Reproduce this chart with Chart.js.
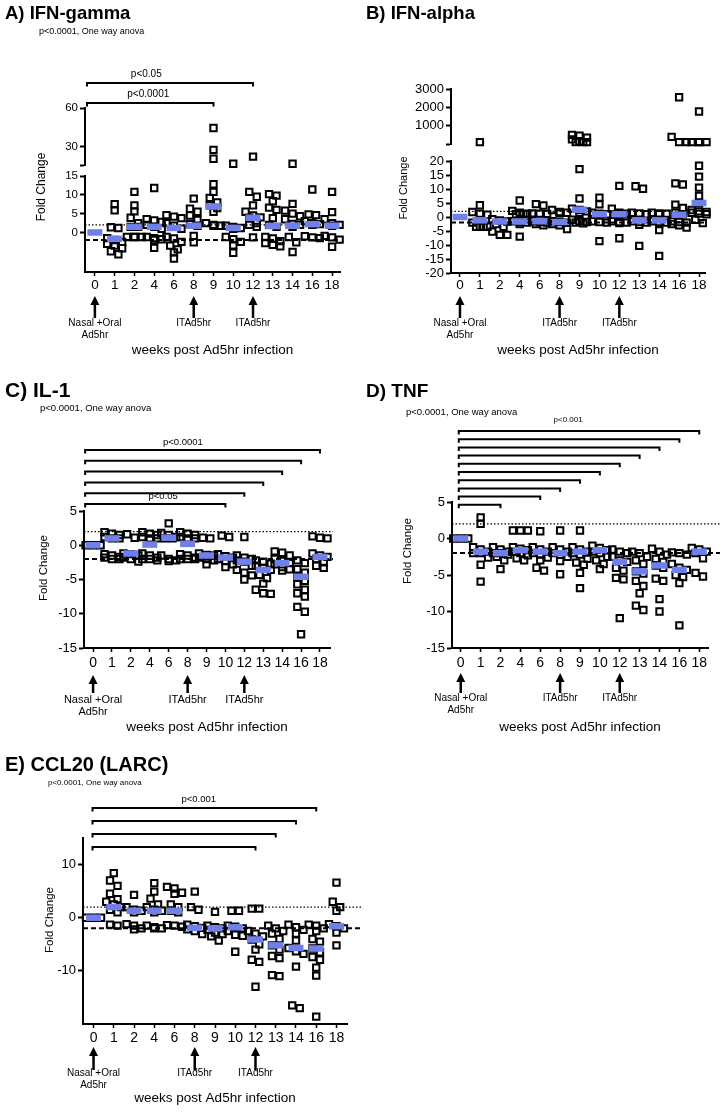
<!DOCTYPE html>
<html>
<head>
<meta charset="utf-8">
<script src="https://cdn.jsdelivr.net/npm/chart.js@4.4.1/dist/chart.umd.min.js"></script>
<style>
  body { margin: 0; background: #fff; width: 722px; height: 1112px; position: relative; overflow: hidden; }
  canvas { position: absolute; }
</style>
</head>
<body>
<canvas id="cA" width="361" height="360" style="left:0;top:0"></canvas>
<canvas id="cB" width="361" height="360" style="left:361px;top:0"></canvas>
<canvas id="cC" width="361" height="375" style="left:0;top:360px"></canvas>
<canvas id="cD" width="361" height="375" style="left:361px;top:360px"></canvas>
<canvas id="cE" width="361" height="377" style="left:0;top:735px"></canvas>
<script>
// shared categories / labels
const weeks = ['0', '1', '2', '4', '6', '8', '9', '10', '12', '13', '14', '16', '18'];
const cutoffs = [2, -2];           // dotted, dashed reference lines
const arrowWeeks = ['0', '8', '12'];
const arrowLabels = [['Nasal +Oral', 'Ad5hr'], ['ITAd5hr'], ['ITAd5hr']];
const xTitle = 'weeks post Ad5hr infection';
const yTitle = 'Fold Change';
const anova = 'p<0.0001, One way anova';

// A) IFN-gamma
const ifnGamma = [
  [],
  [7.5, 5.9, 1.4, 1.2, -1.5, -2, -2.5, -3, -3.5, -4.2, -5, -5.8],
  [10.8, 7.2, 5.6, 3.9, 2.5, 1.5, 1.5, -1.2, -1.2, -1.2, -1.2],
  [11.8, 3.5, 3.2, 2.8, 2, 1.5, 1, -1.2, -1.5, -1.8, -2, -4.1],
  [4.6, 4.2, 3.8, 2.5, 1.8, 1, -1.2, -1.6, -2.5, -3.5, -4.5, -5.3, -6.9],
  [9, 6.3, 5.5, 4.5, 3.3, 2.2, 1.8, -0.9, -2.6],
  [44.6, 27.7, 20.8, 12.8, 10.8, 9.2, 8, 7.2, 6.5, 5.5, 2.5, 2, 1.8, 1.8],
  [17, 1.8, 1.5, 1.2, 1, -1.2, -1.8, -2.5, -3.4, -5.4],
  [22.5, 10.8, 9.5, 7.2, 5.5, 4.5, 4, 3.9, 2.5, 2, 1.5, -1.3],
  [10.2, 9.8, 8.3, 6.6, 6, 3.8, 2, 1.5, -1.2, -1.6, -2.3, -2.8, -3.3, -3.7],
  [17, 7.6, 5.8, 5, 4.3, 3.5, 2.3, 2, 1.5, -1.2, -2.6, -5.2],
  [11.4, 4.8, 4.6, 3, 2.5, 2.2, 2, -1, -1.3, -1.5],
  [10.8, 5.4, 3.5, 2.5, 2, 1.8, -0.9, -1.3, -1.9, -3.8]
];
const ifnGammaMedian = [0, -1.7, 1.5, 1.5, 1.2, 1.8, 6.9, 1.2, 3.9, 1.7, 1.8, 2.2, 1.8];
const ifnGammaTicksHigh = [30, 60];
const ifnGammaTicksLow = [0, 5, 10, 15];
const ifnGammaVs = ['12', '9'];
const ifnGammaP = ['p<0.05', 'p<0.0001'];

// B) IFN-alpha
const ifnAlpha = [
  [],
  [100, 4.2, 1.8, 1.2, 0.8, -2, -3.5, -3.5, -3.5, -3.5],
  [-0.8, -1.2, -1.6, -2.5, -3.5, -5.2, -6.4, -6.4],
  [5.9, 2.2, 1.5, 1.2, 1, 1, -1.5, -1.8, -2, -2.5, -7],
  [4.6, 4.1, 1.3, 1.2, 1.1, -1.5, -1.8, -2, -2.5, -3],
  [2.5, 1.8, 1.5, 1.3, -1.5, -1.8, -2, -2.5, -3, -4.3],
  [500, 450, 350, 250, 150, 100, 100, 100, 17.1, 6.6, 3, 2.5, 2, 1.5, -1, -1.5, -1.8, -2, -2.3],
  [6.9, 4.5, 1.5, 1.2, 1, 0.8, -1.5, -1.8, -2, -8.6],
  [11.1, 3, 1.5, 1.2, 1, 1, -1.5, -1.8, -2, -2.2, -7.6],
  [11, 10.1, 1.5, 1.3, 1, -1.5, -1.8, -2, -2.8, -10.3],
  [1.5, 1.3, 1.2, 1, -1.5, -1.8, -2, -2.5, -4.7, -13.9],
  [2550, 390, 100, 100, 12, 11.6, 4.4, 3.2, 1.5, 1, -1.5, -1.8, -2, -2.5, -3, -3.8],
  [1774, 100, 100, 100, 100, 18.3, 14.4, 10.5, 7.5, 5, 2.5, 2, 1.8, 1.5, 1.2, 1, -1, -2.2]
];
const ifnAlphaMedian = [0, -1.2, -1.6, -1.6, -1.5, -1.8, 2.6, 1, 1, -1.2, -1.2, 0.8, 5];
const ifnAlphaTicksHigh = [1000, 2000, 3000];
const ifnAlphaTicksLow = [-20, -15, -10, -5, 0, 5, 10, 15, 20];

// C) IL-1
const il1 = [
  [0, 0, 0],
  [1.9, 1.7, 1.5, 1.2, 1, 1, -1.3, -1.5, -1.7, -1.8, -2, -2],
  [1.6, 1.1, -1.2, -1.3, -1.5, -1.8, -2, -2.4],
  [1.9, 1.7, 1.5, 1.2, 1, 1, -1.2, -1.5, -1.8, -2, -2, -2.2],
  [3.2, 1.8, 1.5, 1.2, 1, 1, -1.5, -2, -2.2, -2.3],
  [1.9, 1.7, 1.5, 1.2, 1, 1, -1.3, -1.5, -1.8, -2, -2, -2],
  [1.1, 1, -1.2, -1.4, -1.5, -1.8, -2, -2.2, -2.8],
  [1.4, 1.2, -1.3, -1.6, -1.8, -2, -2.3, -2.8, -3.2],
  [1.2, -1.5, -1.8, -2, -2.2, -2.4, -3, -3.6, -4, -4.4, -5],
  [-2.2, -2.4, -2.7, -3, -3.3, -3.6, -4.3, -4.8, -5.6, -6.5, -7, -7.1],
  [-0.9, -1.1, -1.5, -2, -2.3, -2.6, -2.8, -3.2, -3.5, -3.7],
  [-2.2, -2.6, -3.5, -4, -4.6, -5.2, -5.7, -6.5, -7, -7.5, -9, -9.7, -13],
  [1.3, 1.1, 1, -1.2, -1.5, -1.7, -2, -2.5, -3, -3.3]
];
const il1Median = [0, 1, -1.2, 0.1, 1.1, 0.2, -1.5, -1.8, -2.4, -3.6, -2.6, -4.6, -1.7];
const il1Ticks = [-15, -10, -5, 0, 5];
const il1Vs = ['18', '16', '14', '13', '12', '10'];
const il1P = ['p<0.0001', '', '', '', '', 'p<0.05'];

// D) TNF
const tnf = [
  [0, 0, 0],
  [2.9, 2, -1.2, -1.5, -1.8, -2, -2, -2.6, -3.6, -5.9],
  [-1.2, -1.5, -1.8, -2, -2, -2.2, -2.5, -3, -4.2],
  [1.1, 1.1, 1.1, -1.2, -1.4, -1.6, -1.8, -2, -2.3, -2.7, -3],
  [1, -1.2, -1.5, -1.8, -2, -2.2, -2.6, -3, -4, -4.4],
  [1.1, -1.2, -1.5, -1.8, -2, -2.2, -2.5, -3.1, -4.9],
  [1.1, -1.2, -1.5, -1.8, -2, -2.2, -2.8, -3.3, -3.6, -4.7, -6.8],
  [-1, -1.3, -1.6, -1.8, -2, -2.5, -3, -3.5, -4.2],
  [-1.5, -1.8, -2, -2.5, -3, -3.2, -4, -4.4, -5.4, -5.6, -10.9],
  [-1.8, -2, -2.5, -3, -3.5, -4.5, -4.8, -5.8, -6.5, -7.5, -9.2, -9.8],
  [-1.4, -1.8, -2.2, -2.8, -3.2, -3.7, -4, -5.5, -5.8, -8.3, -10],
  [-1.9, -2, -2.2, -3.5, -4, -4.3, -5, -5.3, -6.1, -11.9],
  [-1.3, -1.5, -1.8, -2, -2.7, -4.7, -5.2]
];
const tnfMedian = [0, -1.8, -2, -1.6, -1.8, -2, -1.8, -1.6, -3.2, -4.5, -3.7, -4.3, -1.8];
const tnfTicks = [-15, -10, -5, 0, 5];
const tnfVs = ['18', '16', '14', '13', '12', '10', '9', '8', '6', '2'];
const tnfP = ['p<0.001', '', '', '', '', '', '', '', '', ''];

// E) CCL20 (LARC)
const ccl20 = [
  [0, 0, 0],
  [8.4, 7, 6, 4.5, 3.5, 3, 2.5, 2, 1.5, 1, -1.3, -1.5],
  [4.3, 2, 1.5, 1.3, 1, -1.2, -1.5, -2, -2.2],
  [6.5, 4.9, 3.6, 2.5, 2, 1.5, 1.3, 1, -1.5, -1.8, -2, -2],
  [5.8, 5.5, 4.7, 4.5, 2.5, 2, 1.3, 1, -1.4, -1.5, -1.7],
  [4.9, 2, 1.5, -1.3, -1.6, -1.9, -2.2, -2.5, -3.1],
  [1.1, -1.5, -1.8, -2, -2.3, -2.8, -3.1, -3.5, -4.3],
  [1.3, 1.3, -1.5, -1.7, -2, -2.5, -3.2, -3.4, -6.4],
  [1.7, 1.7, -2.5, -3, -3.5, -4.1, -5, -6, -7.9, -8.3, -13],
  [-1.5, -2, -2.5, -3, -4, -5.2, -6, -7.2, -7.6, -10.8, -11],
  [-1.3, -1.8, -2.3, -3, -4.3, -5.7, -6.3, -6.8, -9.2, -16.5, -17],
  [-1.3, -1.5, -2, -2.5, -4, -4.5, -5.8, -6.5, -7.4, -7.9, -9.4, -10.9, -18.6],
  [6.6, 3, 2, 1.3, -1.2, -1.6, -2, -2.8, -5.2]
];
const ccl20Median = [0, 2, 1.3, 1.3, 1.3, -1.9, -2, -1.8, -4.1, -5.2, -5.7, -5.8, -1.6];
const ccl20Ticks = [-10, 0, 10];
const ccl20Vs = ['16', '14', '13', '12'];
const ccl20P = ['p<0.001', '', '', ''];

const FONT = "'Liberation Sans', Arial, Helvetica, sans-serif";
const BLUE = '#6f80ea';
Chart.defaults.font.family = FONT;
Chart.defaults.color = '#000';

function panelPlugin(g, lowId) {
  return {
    id: 'panel',
    beforeDatasetsDraw(chart) {
      const ctx = chart.ctx, a = chart.chartArea, ys = chart.scales[lowId];
      const right = g.lineRight || a.right;
      ctx.save();
      ctx.strokeStyle = '#000';
      [[1.2, [1.5, 2]], [2, [5, 3]]].forEach(([w, dash], k) => {
        const y = ys.getPixelForValue(cutoffs[k]);
        ctx.lineWidth = w;
        ctx.setLineDash(dash);
        ctx.beginPath(); ctx.moveTo(a.left, y); ctx.lineTo(right, y); ctx.stroke();
      });
      ctx.restore();
    },
    afterDraw(chart) {
      const ctx = chart.ctx, a = chart.chartArea, xs = chart.scales.x;
      ctx.save();
      ctx.fillStyle = '#000';
      ctx.strokeStyle = '#000';
      ctx.textAlign = 'left';
      ctx.textBaseline = 'alphabetic';
      ctx.font = `bold ${g.titleSize}px ${FONT}`;
      ctx.fillText(g.title, 5, g.titleY);
      ctx.textBaseline = 'middle';
      if (g.subSize) {
        ctx.font = `${g.subSize}px ${FONT}`;
        ctx.fillText(anova, g.subX, g.subY);
      }
      // comparison brackets
      if (g.vs) {
        const x0 = xs.getPixelForValue(g.brStart);
        g.vs.forEach((w, k) => {
          const y = g.brTop + k * g.brStep;
          const x1 = xs.getPixelForValue(weeks.indexOf(w));
          ctx.lineWidth = 2;
          ctx.beginPath();
          ctx.moveTo(x0, y + 3.5); ctx.lineTo(x0, y); ctx.lineTo(x1, y); ctx.lineTo(x1, y + 3.5);
          ctx.stroke();
          if (g.p[k]) {
            ctx.font = `${g.brFont}px ${FONT}`;
            ctx.textAlign = 'center';
            ctx.fillText(g.p[k], xs.getPixelForValue(g.brLabelAt[k]), y - g.brRise);
          }
        });
      }
      // inoculation arrows
      arrowWeeks.forEach((w, k) => {
        const x = xs.getPixelForValue(weeks.indexOf(w));
        ctx.lineWidth = 2.5;
        ctx.beginPath(); ctx.moveTo(x, g.arrowTail); ctx.lineTo(x, g.arrowTip + 6); ctx.stroke();
        ctx.beginPath();
        ctx.moveTo(x, g.arrowTip); ctx.lineTo(x - 4.5, g.arrowTip + 9); ctx.lineTo(x + 4.5, g.arrowTip + 9);
        ctx.closePath(); ctx.fill();
        ctx.font = `${g.arrowFont}px ${FONT}`;
        ctx.textAlign = 'center';
        arrowLabels[k].forEach((t, j) => ctx.fillText(t, x, g.arrowTextY + j * 12));
      });
      // axis titles
      ctx.textAlign = 'center';
      ctx.font = `13.5px ${FONT}`;
      ctx.fillText(xTitle, (a.left + a.right) / 2, g.xTitleY);
      ctx.translate(g.yTitleX, g.yTitleY);
      ctx.rotate(-Math.PI / 2);
      ctx.font = `${g.yTitleSize}px ${FONT}`;
      ctx.fillText(yTitle, 0, 0);
      ctx.restore();
    }
  };
}

// spread overlapping points sideways, GraphPad style, in pixel space
function spread(chart) {
  const xs = chart.scales.x;
  const step = 7.5 / (xs.getPixelForValue(1) - xs.getPixelForValue(0));
  weeks.forEach((w, i) => {
    const pts = [];
    chart.data.datasets.forEach(ds => {
      if (!ds.swarm) return;
      const ys = chart.scales[ds.yAxisID];
      ds.data.forEach(p => { if (p.c === i) pts.push({p, py: ys.getPixelForValue(p.y)}); });
    });
    pts.sort((a, b) => a.py - b.py);
    let row = [];
    const flush = () => {
      row.forEach((q, k) => { q.p.x = i + (k - (row.length - 1) / 2) * step; });
      row = [];
    };
    pts.forEach(q => {
      if (row.length && (q.py - row[0].py > 6 || row.length >= 3)) flush();
      row.push(q);
    });
    flush();
  });
  chart.update('none');
}

function makePanel(id, g) {
  const canvas = document.getElementById(id);
  const W = canvas.width, H = canvas.height, a = g.area;
  const n = g.segs.length;
  const tickLen = 4;
  const scales = {
    x: {
      type: 'linear', min: g.xMin, max: g.xMax,
      afterBuildTicks: s => { s.ticks = weeks.map((w, i) => ({value: i})); },
      afterFit: s => { s.height = 20; },
      ticks: {
        callback: v => weeks[v], autoSkip: false, maxRotation: 0, minRotation: 0,
        padding: g.xLabelY - a.b - tickLen - g.xFont * 0.6, color: '#000', font: {size: g.xFont}
      },
      grid: {display: true, drawOnChartArea: false, drawTicks: true, tickLength: tickLen, tickWidth: 1.5, tickColor: '#000'},
      border: {display: true, width: 2, color: '#000'}
    }
  };
  let lowId = null;
  g.segs.forEach((sg, k) => {
    const sid = 'y' + k;
    if (!sg.gap) lowId = sid;
    scales[sid] = {
      type: 'linear', position: 'left', stack: 'fold', stackWeight: sg.h, weight: n - k,
      min: sg.gap ? 0 : sg.min, max: sg.gap ? 1 : sg.max,
      afterBuildTicks: s => {
        s.ticks = sg.gap ? [] : (sg.cap !== undefined ? [sg.cap] : []).concat(sg.ticks).map(v => ({value: v}));
      },
      afterFit: s => { s.width = a.l; },
      ticks: {
        display: !sg.gap, autoSkip: false, padding: 2, color: '#000', font: {size: g.yFont},
        callback: v => (sg.ticks && sg.ticks.includes(v) ? String(v) : '')
      },
      grid: {display: !sg.gap, drawOnChartArea: false, drawTicks: true, tickLength: 5, tickWidth: 2, tickColor: '#000'},
      border: {display: !sg.gap, width: 2, color: '#000'}
    };
  });
  const segFor = v => {
    for (let k = n - 1; k >= 0; k--) {
      const sg = g.segs[k];
      if (!sg.gap && v >= sg.min && v <= sg.max) return k;
    }
    return n - 1;
  };
  const datasets = [{
    data: g.medians.map((m, i) => ({x: i, y: m})), yAxisID: lowId,
    pointStyle: 'line', radius: 7.5, borderWidth: 6.5, borderColor: BLUE, order: 0, clip: false
  }];
  g.segs.forEach((sg, k) => {
    if (sg.gap) return;
    const pts = [];
    g.values.forEach((vals, i) => vals.forEach(v => {
      if (segFor(v) === k) pts.push({x: i, y: v, c: i});
    }));
    datasets.push({
      data: pts, yAxisID: 'y' + k, swarm: true, pointStyle: 'rect', radius: 4.5, borderWidth: 2,
      borderColor: '#000', backgroundColor: 'rgba(0,0,0,0)', order: 1, clip: false
    });
  });
  const chart = new Chart(canvas, {
    type: 'scatter',
    data: {datasets},
    options: {
      responsive: false, animation: false, devicePixelRatio: 1, events: [],
      layout: {padding: {left: 0, top: a.t, right: W - a.r, bottom: H - a.b - 20}},
      scales,
      plugins: {legend: {display: false}, tooltip: {enabled: false}, title: {display: false}}
    },
    plugins: [panelPlugin(g, lowId)]
  });
  spread(chart);
  return chart;
}

makePanel('cA', {
  title: 'A) IFN-gamma', titleSize: 18.5, titleY: 19,
  subSize: 9, subX: 39, subY: 32,
  values: ifnGamma, medians: ifnGammaMedian,
  segs: [
    {min: 16, max: 60, h: 57, ticks: ifnGammaTicksHigh, cap: 16},
    {gap: true, h: 11},
    {min: -10.5, max: 15, h: 96, ticks: ifnGammaTicksLow}
  ],
  area: {l: 85, t: 108, r: 340, b: 272}, xMin: -0.5, xMax: 12.4,
  yFont: 11.5, xFont: 13.5, xLabelY: 285,
  vs: ifnGammaVs, p: ifnGammaP, brTop: 83, brStep: 20, brStart: -0.4, brLabelAt: [2.6, 2.7], brRise: 9, brFont: 10,
  arrowTip: 296, arrowTail: 318, arrowTextY: 323, arrowFont: 10,
  xTitleY: 350, yTitleX: 42, yTitleY: 187, yTitleSize: 12, lineRight: 340
});

makePanel('cB', {
  title: 'B) IFN-alpha', titleSize: 18.5, titleY: 19,
  values: ifnAlpha, medians: ifnAlphaMedian,
  segs: [
    {min: 0, max: 3000, h: 55, ticks: ifnAlphaTicksHigh, cap: 0},
    {gap: true, h: 17},
    {min: -20, max: 20, h: 112, ticks: ifnAlphaTicksLow}
  ],
  area: {l: 90, t: 89, r: 344, b: 273}, xMin: -0.45, xMax: 12.3,
  yFont: 13, xFont: 13.5, xLabelY: 285,
  arrowTip: 296, arrowTail: 318, arrowTextY: 323, arrowFont: 10,
  xTitleY: 350, yTitleX: 43, yTitleY: 188, yTitleSize: 11
});

makePanel('cC', {
  title: 'C) IL-1', titleSize: 21, titleY: 37,
  subSize: 9.5, subX: 40, subY: 48,
  values: il1, medians: il1Median,
  segs: [{min: -15, max: 5, h: 137, ticks: il1Ticks}],
  area: {l: 84, t: 151, r: 330, b: 288}, xMin: -0.48, xMax: 12.53,
  yFont: 13, xFont: 14, xLabelY: 303,
  vs: il1Vs, p: il1P, brTop: 90, brStep: 10.8, brStart: -0.42, brLabelAt: [4.75, 0, 0, 0, 0, 3.7], brRise: 8, brFont: 9.5,
  arrowTip: 315, arrowTail: 333, arrowTextY: 340, arrowFont: 11,
  xTitleY: 367, yTitleX: 44, yTitleY: 208, yTitleSize: 11.5, lineRight: 333
});

makePanel('cD', {
  title: 'D) TNF', titleSize: 19, titleY: 37,
  subSize: 9.5, subX: 45, subY: 52,
  values: tnf, medians: tnfMedian,
  segs: [{min: -15, max: 5, h: 146, ticks: tnfTicks}],
  area: {l: 91, t: 142, r: 352, b: 288}, xMin: -0.44, xMax: 12.44,
  yFont: 13, xFont: 14, xLabelY: 303,
  vs: tnfVs, p: tnfP, brTop: 71, brStep: 8.2, brStart: -0.1, brLabelAt: [5.4], brRise: 11, brFont: 8,
  arrowTip: 313, arrowTail: 333, arrowTextY: 338, arrowFont: 10,
  xTitleY: 367, yTitleX: 47, yTitleY: 191, yTitleSize: 11.5, lineRight: 359
});

makePanel('cE', {
  title: 'E) CCL20 (LARC)', titleSize: 20, titleY: 36,
  subSize: 8, subX: 48, subY: 48,
  values: ccl20, medians: ccl20Median,
  segs: [{min: -20, max: 15, h: 186, ticks: ccl20Ticks}],
  area: {l: 83, t: 103, r: 361, b: 289}, xMin: -0.52, xMax: 12.52,
  yFont: 13, xFont: 14, xLabelY: 303,
  vs: ccl20Vs, p: ccl20P, brTop: 73, brStep: 13, brStart: -0.05, brLabelAt: [5.2], brRise: 9, brFont: 9.5,
  arrowTip: 312, arrowTail: 335, arrowTextY: 338, arrowFont: 10,
  xTitleY: 363, yTitleX: 50, yTitleY: 185, yTitleSize: 11.5, lineRight: 361
});
</script>
</body>
</html>
